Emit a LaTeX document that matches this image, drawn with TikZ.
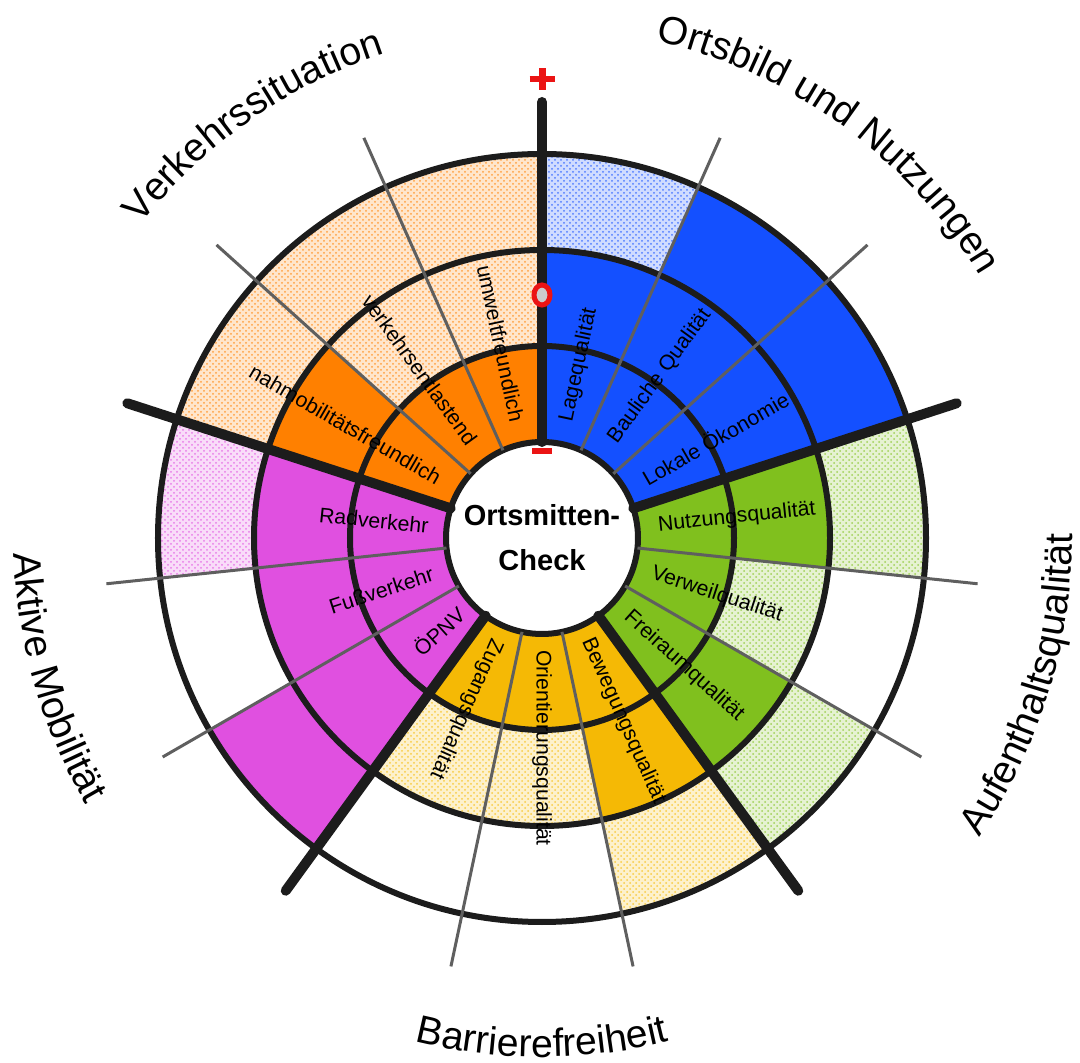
\documentclass[tikz,border=0pt]{standalone}
\usepackage{fontspec}
\setmainfont{Liberation Sans}
\usetikzlibrary{patterns,decorations.text}
\definecolor{cBlue}{RGB}{20,80,255}
\definecolor{cGreen}{RGB}{128,192,30}
\definecolor{cOrange}{RGB}{255,128,0}
\definecolor{cMag}{RGB}{224,80,224}
\definecolor{cAmber}{RGB}{245,185,5}
\definecolor{cLine}{RGB}{28,28,28}
\definecolor{cThin}{RGB}{95,95,95}
\definecolor{cRed}{RGB}{235,20,20}
\newcommand{\annseg}[5]{\path[#1] (#2:#4) arc[start angle=#2, end angle=#3, radius=#4] -- (#3:#5) arc[start angle=#3, end angle=#2, radius=#5] -- cycle;}
\newcommand{\outerfont}{\fontsize{19.6}{23}\selectfont}
\begin{document}
\begin{tikzpicture}[x=0.5pt,y=0.5pt,
  fullseg/.style={fill=#1},
  stipseg/.style={fill=#1!20, postaction={pattern=crosshatch dots, pattern color=#1!75}},
  ringline/.style={draw=cLine, line width=3pt},
  thinline/.style={draw=cThin, line width=1.5pt},
  thickline/.style={draw=cLine, line width=5pt, line cap=round},
  lab/.style={font=\fontsize{10.6}{12}\selectfont, inner sep=0pt},
  outerlab/.style={decorate, decoration={text along path, text align=center, text={|\outerfont|#1}}}]
\useasboundingbox (-542,-525) rectangle (538,538);
% Ortsbild und Nutzungen (blue)
\annseg{fullseg=cBlue}{90}{66}{96}{288}
\annseg{stipseg=cBlue}{90}{66}{288}{384}
\annseg{fullseg=cBlue}{66}{18}{96}{384}
% Aufenthaltsqualitaet (green)
\annseg{fullseg=cGreen}{18}{-54}{96}{192}
\annseg{fullseg=cGreen}{18}{-6}{192}{288}
\annseg{stipseg=cGreen}{18}{-6}{288}{384}
\annseg{stipseg=cGreen}{-6}{-30}{192}{288}
\annseg{fullseg=cGreen}{-30}{-54}{192}{288}
\annseg{stipseg=cGreen}{-30}{-54}{288}{384}
% Barrierefreiheit (amber)
\annseg{fullseg=cAmber}{-54}{-126}{96}{192}
\annseg{fullseg=cAmber}{-54}{-78}{192}{288}
\annseg{stipseg=cAmber}{-54}{-78}{288}{384}
\annseg{stipseg=cAmber}{-78}{-126}{192}{288}
% Aktive Mobilitaet (magenta)
\annseg{fullseg=cMag}{162}{234}{96}{288}
\annseg{stipseg=cMag}{162}{186}{288}{384}
\annseg{fullseg=cMag}{210}{234}{288}{384}
% Verkehrssituation (orange)
\annseg{fullseg=cOrange}{90}{162}{96}{192}
\annseg{fullseg=cOrange}{138}{162}{192}{288}
\annseg{stipseg=cOrange}{90}{138}{192}{288}
\annseg{stipseg=cOrange}{90}{162}{288}{384}
% rings
\foreach \r in {96,192,288,384} \draw[ringline] (0,0) circle[radius=\r];
% thin dividers
\foreach \a in {66,42,-6,-30,-78,-102,186,210,138,114} \draw[thinline] (\a:96) -- (\a:438);
% thick dividers
\foreach \a in {90,18,-54,-126,162} \draw[thickline] (\a:96) -- (\a:436);
% markers
\draw[cRed, line width=3pt] (-12.5,459) -- (12.5,459);
\draw[cRed, line width=3.5pt] (0,448) -- (0,470);
\draw[cRed, line width=2.5pt, fill=gray!40] (0,243) ellipse[x radius=8, y radius=10];
\fill[cRed] (-10,84) rectangle (10,90);
% centre
\node[font=\bfseries\fontsize{14.5}{22.5}\selectfont, align=center] (ctr) at (0,0) {Ortsmitten-\\Check};
% inner labels
\node[lab, rotate=78] (l1) at (78:177) {Lagequalität};
\node[lab, rotate=54] (l2) at (54:200) {Bauliche Qualität};
\node[lab, rotate=30] (l3) at (30:200) {Lokale Ökonomie};
\node[lab, rotate=6] (l4) at (6:196) {Nutzungsqualität};
\node[lab, rotate=-18] (l5) at (-18:184) {Verweilqualität};
\node[lab, rotate=-42] (l6) at (-42:191) {Freiraumqualität};
\node[lab, rotate=-66] (l7) at (-66:200) {Bewegungsqualität};
\node[lab, rotate=-90] (l8) at (-90:210) {Orientierungsqualität};
\node[lab, rotate=-114] (l9) at (-114:187) {Zugangsqualität};
\node[lab, rotate=42] (l10) at (222:139) {ÖPNV};
\node[lab, rotate=18] (l11) at (198:169) {Fußverkehr};
\node[lab, rotate=-6] (l12) at (174:169) {Radverkehr};
\node[lab, rotate=-30] (l13) at (150:227) {nahmobilitätsfreundlich};
\node[lab, rotate=-54] (l14) at (126:208) {verkehrsentlastend};
\node[lab, rotate=-78] (l15) at (102:199) {umweltfreundlich};
% outer labels
\path[outerlab=Verkehrssituation] (170:509) arc[start angle=170, end angle=80, radius=509];
\path[outerlab=Ortsbild und Nutzungen] (99:510) arc[start angle=99, end angle=9, radius=510];
\path[outerlab=Aufenthaltsqualität] (-62:530) arc[start angle=-62, end angle=28, radius=530];
\path[outerlab=Barrierefreiheit] (-135:519) arc[start angle=-135, end angle=-45, radius=519];
\path[outerlab=Aktive Mobilität] (151:528) arc[start angle=151, end angle=241, radius=528];
\end{tikzpicture}
\end{document}
